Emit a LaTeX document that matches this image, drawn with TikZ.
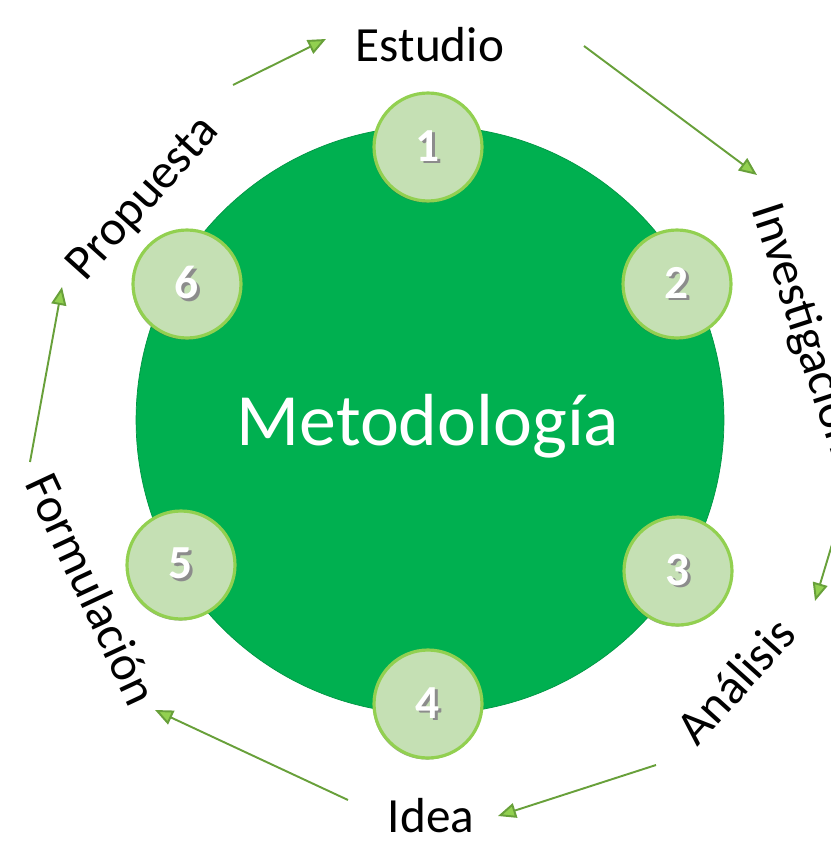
\documentclass[tikz,border=0pt]{standalone}
\usepackage{fontspec}
\setmainfont{Carlito}
\usepackage{xcolor}
\usepackage{tikz}
\usetikzlibrary{arrows.meta,shadows}
\definecolor{hubgreen}{RGB}{0,176,80}
\definecolor{ringgreen}{RGB}{146,208,80}
\definecolor{palegreen}{RGB}{197,224,180}
\definecolor{linegreen}{RGB}{104,160,58}
% white digit with a soft grey shadow
\newcommand{\stagenum}[1]{\makebox[0pt][l]{\hspace{1.3pt}\raisebox{-1.5pt}{\color{black!45}#1}}{\color{white}#1}}

\begin{document}
\begin{tikzpicture}[
  x=0.02cm, y=-0.02cm,
  hub/.style={circle, fill=hubgreen, draw=hubgreen!85!black, line width=0.4pt, minimum size=11.76cm, inner sep=0pt},
  stage/.style={circle, fill=palegreen, draw=ringgreen, line width=1.8pt, minimum size=2.16cm, inner sep=0pt,
    font=\fontsize{27}{30}\selectfont\bfseries,
    drop shadow={shadow xshift=-0.6pt, shadow yshift=-0.9pt, opacity=0.55, fill=black!70}},
  lab/.style={font=\fontsize{28}{34}\selectfont, anchor=base, inner sep=0pt},
  ar/.style={draw=linegreen, line width=1.1pt, -{Triangle[length=3.6mm, width=3mm, fill=ringgreen]}},
]
\useasboundingbox (0,0) rectangle (831,848);
% central circle
\node[hub] (hub) at (430,420) {};
\node[font=\fontsize{42}{48}\selectfont, text=white, anchor=base, inner sep=0pt] (title) at (428,445) {Metodología};
% numbered stages on the rim
\node[stage] (n1) at (428,147) {\stagenum{1}};
\node[stage] (n2) at (677,284) {\stagenum{2}};
\node[stage] (n3) at (678,571) {\stagenum{3}};
\node[stage] (n4) at (428,704) {\stagenum{4}};
\node[stage] (n5) at (181,565) {\stagenum{5}};
\node[stage] (n6) at (187,284) {\stagenum{6}};
% outer labels
\node[lab] (est) at (430,62) {Estudio};
\node[lab, rotate=-72] (inv) at (792,333) {Investigación};
\node[lab, rotate=48] (ana) at (748,692) {Análisis};
\node[lab] (ide) at (431,832) {Idea};
\node[lab, rotate=-65] (for) at (77,596) {Formulación};
\node[lab, rotate=48] (pro) at (153,207) {Propuesta};
% arrow ends
\coordinate (s1) at (233,85);  \coordinate (e1) at (326,39);
\coordinate (s2) at (584,46);  \coordinate (e2) at (757,175);
\coordinate (s3) at (852,478); \coordinate (e3) at (815,601);
\coordinate (s4) at (656,765); \coordinate (e4) at (498,816);
\coordinate (s5) at (348,800); \coordinate (e5) at (155,710);
\coordinate (s6) at (30,462);  \coordinate (e6) at (62,287);
\draw[ar] (s1) -- (e1);
\draw[ar] (s2) -- (e2);
\draw[ar] (s3) -- (e3);
\draw[ar] (s4) -- (e4);
\draw[ar] (s5) -- (e5);
\draw[ar] (s6) -- (e6);
\end{tikzpicture}
\end{document}
